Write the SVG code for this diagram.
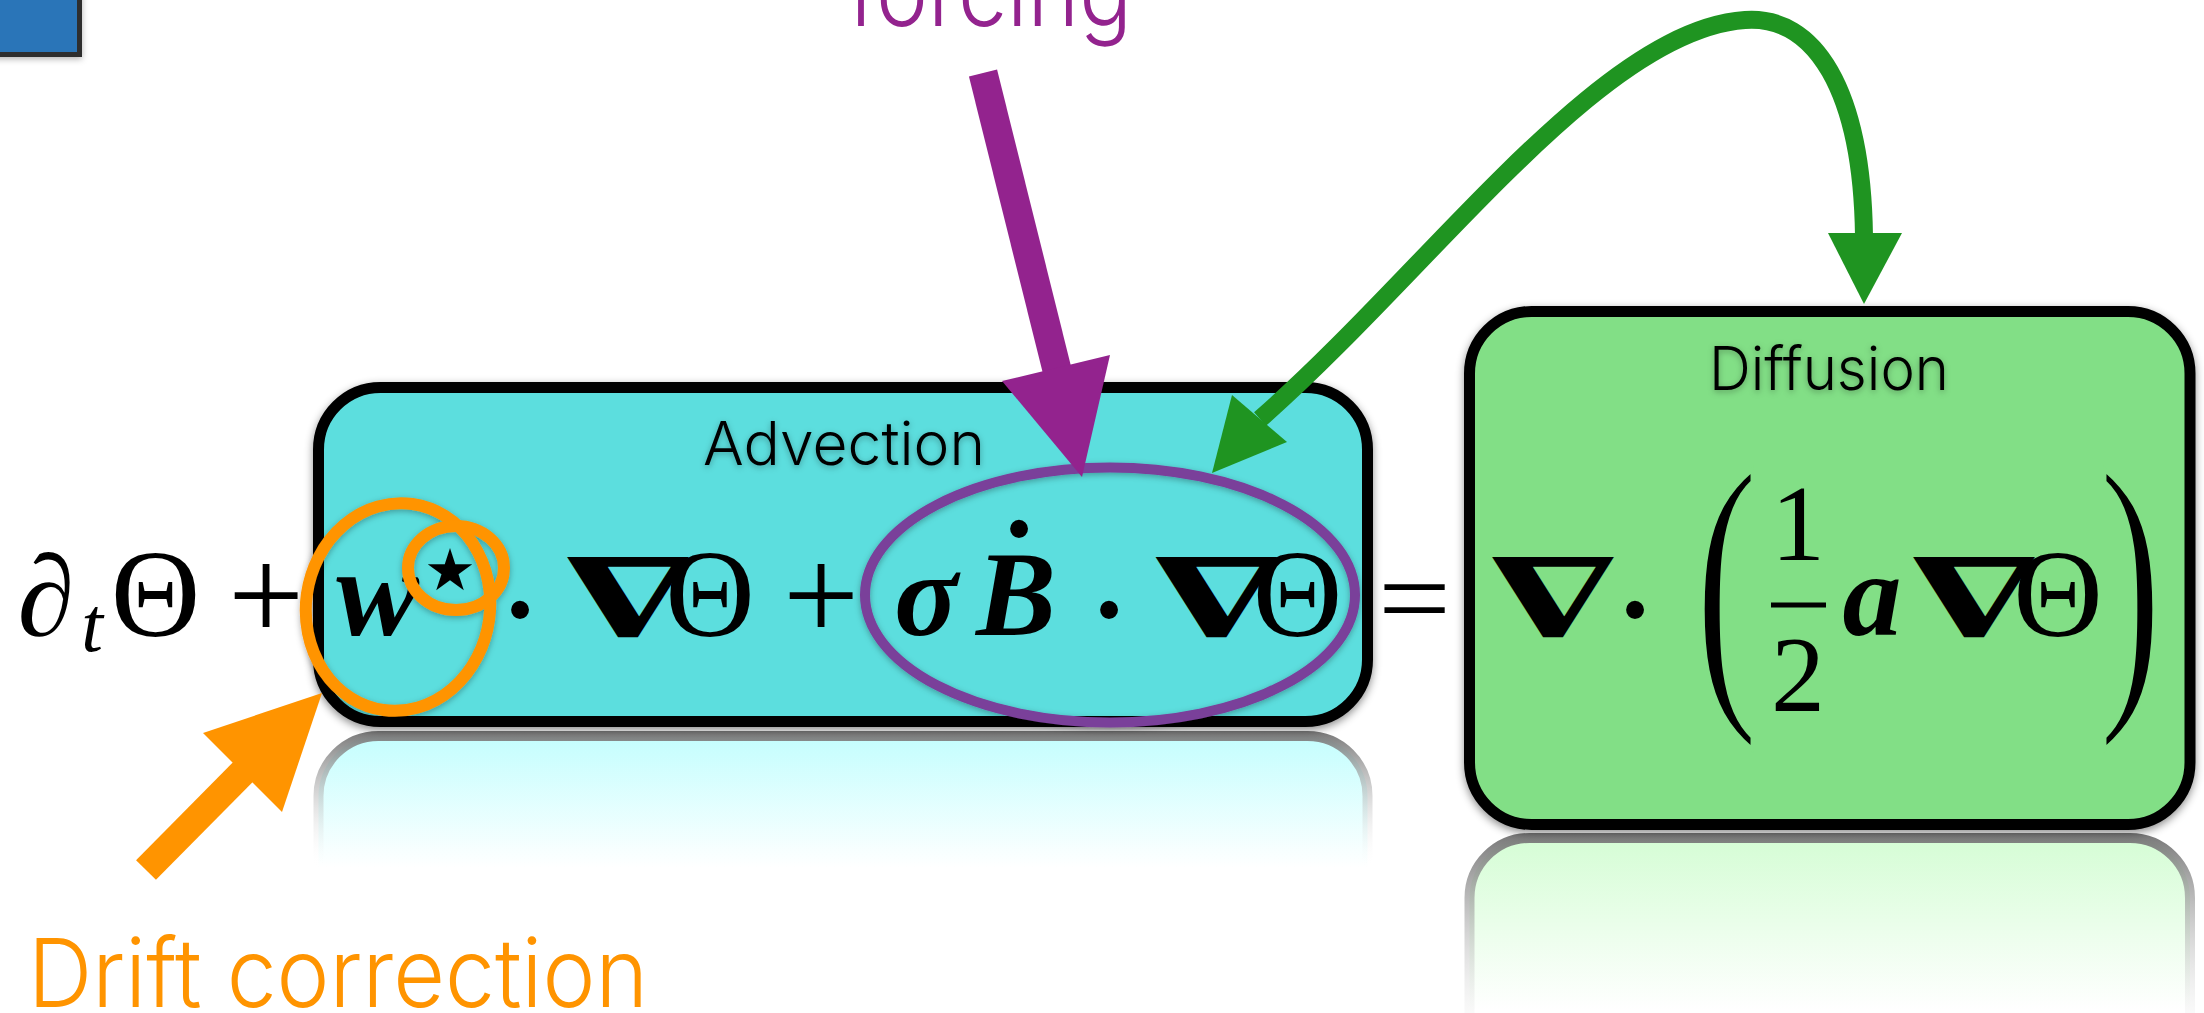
<svg xmlns="http://www.w3.org/2000/svg" width="2204" height="1013" viewBox="0 0 2204 1013">
<style>
.lbl{font-family:Inter,"Open Sans",Roboto,"Liberation Sans",sans-serif;font-weight:300}
.m{font-family:"Liberation Serif","DejaVu Serif",serif;fill:#000}
.nab{font-family:"DejaVu Serif",serif;font-weight:bold;font-size:110px;text-anchor:middle}
.th{font-size:124px;text-anchor:middle}
.bi{font-weight:bold;font-style:italic;text-anchor:middle}
.dot{font-family:"Liberation Sans",Arial,sans-serif;font-size:66px;text-anchor:middle}
.box{stroke:#000;stroke-width:11}
.ring{fill:none}
.par{font-size:100px;text-anchor:middle;stroke:#82df86;stroke-width:4;vector-effect:non-scaling-stroke}
</style>
<defs>
<filter id="sh" x="-10%" y="-10%" width="120%" height="130%">
<feDropShadow dx="0" dy="3" stdDeviation="4" flood-color="#000" flood-opacity="0.45"/>
</filter>
<filter id="sh2" x="-10%" y="-10%" width="120%" height="130%">
<feDropShadow dx="0" dy="2" stdDeviation="3" flood-color="#000" flood-opacity="0.3"/>
</filter>
<linearGradient id="advFill" gradientUnits="userSpaceOnUse" x1="0" y1="741" x2="0" y2="868">
<stop offset="0" stop-color="#c6fefe"/><stop offset="1" stop-color="#ffffff"/>
</linearGradient>
<linearGradient id="advStroke" gradientUnits="userSpaceOnUse" x1="0" y1="731" x2="0" y2="868">
<stop offset="0" stop-color="#777" stop-opacity="1"/><stop offset="1" stop-color="#fff" stop-opacity="0"/>
</linearGradient>
<linearGradient id="difFill" gradientUnits="userSpaceOnUse" x1="0" y1="843" x2="0" y2="1010">
<stop offset="0" stop-color="#d6fdd6"/><stop offset="1" stop-color="#ffffff"/>
</linearGradient>
<linearGradient id="difStroke" gradientUnits="userSpaceOnUse" x1="0" y1="833" x2="0" y2="1060">
<stop offset="0" stop-color="#777" stop-opacity="1"/><stop offset="1" stop-color="#fff" stop-opacity="0"/>
</linearGradient>
</defs>
<rect width="2204" height="1013" fill="#fff"/>

<g id="reflections">
<rect x="318.5" y="736" width="1049" height="334" rx="60" fill="url(#advFill)" stroke="url(#advStroke)" stroke-width="10"/>
<rect x="1469.5" y="838" width="720.5" height="513" rx="60" fill="url(#difFill)" stroke="url(#difStroke)" stroke-width="10"/>
</g>

<g id="corner-block">
<rect x="-10" y="-10" width="89.5" height="64.5" fill="#2a74b8" stroke="#2d2d2d" stroke-width="5" filter="url(#sh2)"/>
</g>

<g id="advection">
<rect class="box" x="318.5" y="387.5" width="1049" height="334" rx="62" fill="#5bdede" filter="url(#sh)"/>
<text class="lbl" x="703" y="465" font-size="60" textLength="282" lengthAdjust="spacingAndGlyphs" filter="url(#sh2)">Advection</text>
</g>

<g id="diffusion">
<rect class="box" x="1469.5" y="311.5" width="720.5" height="513" rx="62" fill="#82df86" filter="url(#sh)"/>
<text class="lbl" x="1709" y="390" font-size="60" textLength="240" lengthAdjust="spacingAndGlyphs" filter="url(#sh2)">Diffusion</text>
</g>

<g id="equation" class="m">
<text x="46" y="635" font-size="115" font-style="italic" text-anchor="middle">∂</text>
<text x="92" y="651" font-size="78" font-style="italic" text-anchor="middle">t</text>
<text class="th" x="155.5" y="636">Θ</text>
<text x="266" y="641" font-size="135" text-anchor="middle">+</text>
<text class="bi" x="377.5" y="635" font-size="124">w</text>
<text x="450" y="590" font-family="DejaVu Sans" font-size="58" text-anchor="middle">★</text>
<text class="dot" x="520" y="632">•</text>
<text class="nab" transform="translate(628 637) scale(-1.55 1)">∇</text>
<text class="th" x="710" y="636">Θ</text>
<text x="821" y="641" font-size="135" text-anchor="middle">+</text>
<text class="bi" x="926" y="635" font-size="118">σ</text>
<text class="bi" x="1016" y="635" font-size="120">B</text>
<text class="dot" x="1019" y="551" font-size="40">•</text>
<text class="dot" x="1109" y="632">•</text>
<text class="nab" transform="translate(1216.5 637) scale(-1.55 1)">∇</text>
<text class="th" x="1297.5" y="636">Θ</text>
<text x="1378" y="637" font-size="115" textLength="73" lengthAdjust="spacingAndGlyphs">=</text>
<text class="nab" transform="translate(1553 637) scale(-1.55 1)">∇</text>
<text class="dot" x="1635" y="632">•</text>
<text class="par" transform="translate(1726.5 683.5) scale(1.9 3.08)">(</text>
<text x="1798" y="560" font-size="108" text-anchor="middle">1</text>
<line x1="1771" y1="605" x2="1826" y2="605" stroke="#000" stroke-width="5"/>
<text x="1798" y="711" font-size="108" text-anchor="middle">2</text>
<text class="bi" x="1872" y="635" font-size="118">a</text>
<text class="nab" transform="translate(1974 637) scale(-1.55 1)">∇</text>
<text class="th" x="2058" y="636">Θ</text>
<text class="par" transform="translate(2130.5 683.5) scale(1.9 3.08)">)</text>
</g>

<g id="highlights" filter="url(#sh2)">
<ellipse class="ring" cx="398" cy="607" rx="92" ry="104" transform="rotate(8 398 607)" stroke="#ff9400" stroke-width="12"/>
<ellipse class="ring" cx="456" cy="568" rx="48" ry="42" stroke="#ff9400" stroke-width="12"/>
<ellipse class="ring" cx="1110" cy="595" rx="245" ry="127.5" stroke="#7a3f9a" stroke-width="10"/>
</g>

<g id="connectors">
<g id="forcing-arrow" fill="#93238e">
<line x1="983" y1="73" x2="1058" y2="374" stroke="#93238e" stroke-width="29"/>
<polygon points="1002,381 1110,355 1082,477"/>
</g>
<g id="drift-arrow" fill="#ff9400">
<line x1="146" y1="870" x2="246" y2="769" stroke="#ff9400" stroke-width="28"/>
<polygon points="203,733 282,812 322,693"/>
</g>
<g id="diffusion-arrow" fill="#1f9421">
<path d="M1260,419 C1430,270 1600,30 1745,20 C1815,15 1862,90 1864,236" fill="none" stroke="#1f9421" stroke-width="18"/>
<polygon points="1232,395 1287,442 1212,473"/>
<polygon points="1828,233 1902,233 1864,304"/>
</g>
</g>

<g id="labels">
<text class="lbl" x="848" y="26" font-size="96" fill="#93238e" textLength="284" lengthAdjust="spacingAndGlyphs">forcing</text>
<text class="lbl" x="28" y="1007" font-size="95" fill="#ff9400" textLength="620" lengthAdjust="spacingAndGlyphs">Drift correction</text>
</g>
</svg>
